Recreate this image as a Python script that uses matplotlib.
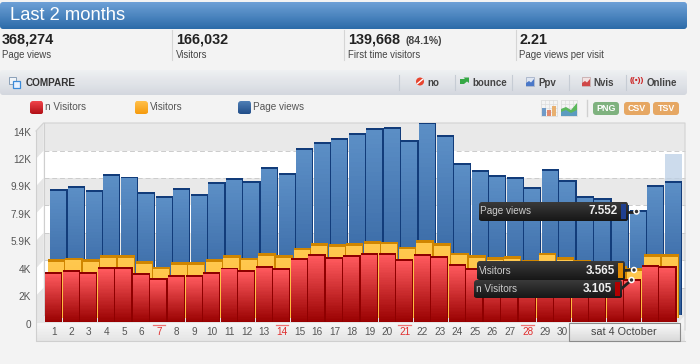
import numpy as np
import matplotlib
matplotlib.use("Agg")
import matplotlib.pyplot as plt
from matplotlib.patches import FancyBboxPatch, Rectangle, Polygon, Circle
from matplotlib.transforms import ScaledTranslation

plt.rcParams['font.family'] = ['Liberation Sans', 'DejaVu Sans']

# ---- data -----
days = list(range(1, 37))
n_visitors = [3650,3770,3650,3960,3960,3580,3170,3380,3410,3620,3940,3770,4060,3890,4630,4900,4730,4850,4970,4990,4580,4920,4750,4220,3890,3650,3600,3450,3800,3550,3450,3350,3300,3105,4130,4080]
visitors = [4230,4330,4250,4530,4530,4090,3680,4020,3990,4210,4530,4340,4660,4500,5060,5400,5280,5400,5530,5480,5120,5620,5390,4700,4500,4370,4420,4150,4700,4350,4150,3950,3750,3565,4570,4570]
page_views = [9070,9290,9020,10130,9960,8830,8570,9160,8730,9570,9880,9650,10630,10200,11980,12460,12700,13060,13450,13550,12610,13850,12930,10940,10460,10040,9940,9180,10500,9690,8590,8400,7900,7552,9320,9630]
ghost_day = 36
ghost_value = 11570
tick_step_values = [0,1972,3944,5916,7888,9860,11832,13804]
tick_labels = ['0','2K','4K','5.9K','7.9K','9.9K','12K','14K']
day_labels = [str(d) for d in range(1, 31)]
sunday_days = [7, 14, 21, 28]
legend_names = ['n Visitors', 'Visitors', 'Page views']
stats = [('368,274','Page views'),('166,032','Visitors'),('139,668','First time visitors'),('2.21','Page views per visit')]

W, H = 700, 364
fig = plt.figure(figsize=(7, 3.64), dpi=100, facecolor='#f3f3f3')

def pix_axes(z):
    a = fig.add_axes([0, 0, 1, 1], zorder=z)
    a.set_xlim(0, W); a.set_ylim(H, 0); a.axis('off'); a.patch.set_alpha(0)
    return a

bg = pix_axes(0)
top = pix_axes(5)

def grad(a, x0, x1, y0, y1, c0, c1, clip=None, zorder=1, n=48):
    """Vertical gradient; c0 at y0, c1 at y1."""
    c0 = np.array(matplotlib.colors.to_rgb(c0)); c1 = np.array(matplotlib.colors.to_rgb(c1))
    t = (np.arange(n) + 0.5) / n
    rgb = (c0[None, :] * (1 - t[:, None]) + c1[None, :] * t[:, None])[:, None, :]
    mesh = a.pcolormesh([x0, x1], np.linspace(y0, y1, n + 1), rgb, shading='flat',
                        zorder=zorder, linewidth=0, antialiased=False)
    if clip is not None:
        mesh.set_clip_path(clip)
    return mesh

def rrect(a, x0, y0, x1, y1, r=3, fc='none', ec='none', lw=0, zorder=2):
    p = FancyBboxPatch((x0 + r, y0 + r), x1 - x0 - 2 * r, y1 - y0 - 2 * r,
                       boxstyle=f"round,pad={r},rounding_size={r}", fc=fc, ec=ec, lw=lw, zorder=zorder)
    a.add_patch(p)
    return p

# header
p = rrect(bg, 0, 2, 687, 29, r=3, fc='none')
grad(bg, 0, 687, 2, 29, '#6da0d6', '#2b6aa8', clip=p)
bg.text(10, 15.5, 'Last 2 months', color='white', fontsize=13.2, va='center', ha='left', zorder=3)

# stats
for (v, l), x in zip(stats, [2, 176, 348, 519]):
    bg.text(x, 40, v, fontsize=10.4, fontweight='bold', color='#222222', va='center', ha='left')
    bg.text(x, 55, l, fontsize=6.9, color='#444444', va='center', ha='left')
bg.text(405, 41, '(84.1%)', fontsize=7.6, fontweight='bold', color='#444444', va='center', ha='left')
for x in [171.5, 344, 515.7]:
    bg.plot([x, x], [30, 60], color='#d5d5d5', lw=0.8)

# compare bar
p = rrect(bg, 0, 70, 687, 95, r=3, fc='none')
grad(bg, 0, 687, 70, 95, '#eef0f2', '#d3d7de', clip=p)
bg.text(26, 82.5, 'COMPARE', fontsize=7.2, fontweight='bold', color='#333333', va='center', zorder=3)
bg.add_patch(Rectangle((8.5, 76.5), 7, 7, fc='#f0f4f8', ec='#8aa0b8', lw=0.7, zorder=3))
bg.add_patch(Rectangle((12.5, 80.5), 7, 7, fc='#e8f2ff', ec='#3a8ad8', lw=0.9, zorder=3))
for txt, x in [('no', 427), ('bounce', 472), ('Ppv', 538), ('Nvis', 593), ('Online', 647)]:
    bg.text(x, 82.5, txt, fontsize=7, fontweight='bold', color='#444444', va='center', zorder=3)
for x in [399, 454.5, 512, 569, 626]:
    bg.plot([x, x], [75, 90], color='#c6ccd4', lw=0.8, zorder=3)
bg.add_patch(Circle((420, 81.5), 4, fc='#e8452f', ec='none', zorder=3))
bg.plot([417.6, 422.4], [83.5, 79.5], color='white', lw=1, zorder=4)
bg.add_patch(Polygon([[460, 84], [460, 79], [465, 79], [463.5, 77.5], [469, 77.5], [469, 83], [467, 81.5], [464, 84]], fc='#35a845', zorder=3))
bg.add_patch(Rectangle((525.5, 77), 8.5, 9, fc='#dfe6f2', ec='#9aa8c0', lw=0.5, zorder=3))
bg.add_patch(Polygon([[526, 86], [526, 83], [529, 81], [531, 82.5], [534, 79], [534, 86]], fc='#4a78c8', zorder=4))
bg.add_patch(Rectangle((581.5, 77), 8.5, 9, fc='#f2e2e2', ec='#c0a0a0', lw=0.5, zorder=3))
bg.add_patch(Polygon([[582, 86], [582, 83], [585, 81], [587, 82.5], [590, 79], [590, 86]], fc='#d04848', zorder=4))
bg.text(637, 81, '((\u2022))', fontsize=6, fontweight='bold', color='#cc2222', va='center', ha='center', zorder=3)

# legend swatches
for name, x, c0, c1 in [(legend_names[0], 30, '#f0444a', '#b00e14'), (legend_names[1], 134.5, '#ffc04a', '#f59a0c'), (legend_names[2], 238, '#4f7fb5', '#1f4c88')]:
    p = rrect(bg, x, 101, x + 13, 114, r=2.5)
    grad(bg, x, x + 13, 101, 114, c0, c1, clip=p)
    bg.text(x + 15, 107, name, fontsize=7.2, color='#555555', va='center')

# chart icons and buttons
for x0 in [541, 561]:
    bg.add_patch(Rectangle((x0, 100), 16, 16, fc='#f4f4f4', ec='#d8d8d8', lw=0.5))
    for g in [4, 8, 12]:
        bg.plot([x0 + g, x0 + g], [100, 116], color='#dcdcdc', lw=0.5)
        bg.plot([x0, x0 + 16], [100 + g, 100 + g], color='#dcdcdc', lw=0.5)
for dx, h, c in [(1, 8, '#6f9ac8'), (6, 6, '#e08a70'), (11, 10, '#e8b070')]:
    bg.add_patch(Rectangle((541 + dx, 116 - h), 4, h, fc=c, zorder=3))
bg.add_patch(Polygon([[561, 116], [561, 109], [566, 107], [571, 110], [577, 103], [577, 116]], fc='#5cb85c', zorder=3))
bg.add_patch(Polygon([[561, 116], [561, 112], [566, 110], [571, 113], [577, 110], [577, 116]], fc='#5b9bc0', zorder=4))
bg.plot([586.5, 586.5], [100, 116], color='#d0d0d0', lw=1)
for lab, x0, x1, c in [('PNG', 593, 619, '#7fb27f'), ('CSV', 624, 650, '#e6a763'), ('TSV', 653, 679, '#e6a763')]:
    rrect(bg, x0, 102, x1, 115, r=3, fc=c)
    bg.text((x0 + x1) / 2, 108.7, lab, fontsize=6.4, fontweight='bold', color='white', va='center', ha='center', zorder=3)

# chart frame / wall
wall_base, wall_step, wall_x0, wall_x1, side_x, side_dy = 315.0, 27.4, 43.5, 685.0, 36.0, 8.0
bg.add_patch(Rectangle((wall_x0, 123), wall_x1 - wall_x0, wall_base - 123, fc='white', ec='none'))
for k in range(7):
    y1 = wall_base - k * wall_step; y0 = y1 - wall_step
    shade = k % 2 == 0
    if shade:
        bg.add_patch(Rectangle((wall_x0, y0), wall_x1 - wall_x0, wall_step, fc='#e9e9e9', ec='none', zorder=1.1))
    bg.add_patch(Polygon([[side_x, y0 + side_dy], [wall_x0, y0], [wall_x0, y1], [side_x, y1 + side_dy]],
                         fc='#e6e6e6' if shade else '#ffffff', ec='none', zorder=1.1))
    if k > 0:
        bg.plot([wall_x0, wall_x1], [y1, y1], color='#cccccc', lw=0.7, ls=(0, (5, 3)), zorder=1.2)
bg.plot([side_x, wall_x0, wall_x1, wall_x1], [131, 123, 123, 330], color='#d2d2d2', lw=0.8, zorder=1.3)
bg.plot([wall_x0, wall_x0], [123, wall_base], color='#cfcfcf', lw=0.8, zorder=1.3)
bg.add_patch(Polygon([[side_x, 323], [wall_x0, wall_base], [wall_x1, wall_base], [wall_x1 - 7, 323]], fc='#e4e4e4', zorder=1.2))
grad(bg, side_x, wall_x1, 323, 341, '#f6f6f6', '#e4e4e4', zorder=1.2)
bg.plot([side_x, side_x, wall_x1], [131, 341, 341], color='#cfcfcf', lw=0.8, zorder=1.3)

# chart axes, positions set so the scale follows the picture
PX_PER_UNIT = 0.013895
Y0_PX, TOP_PX, LEFT_PX, RIGHT_PX = 322.3, 123.0, 36.0, 685.0
PITCH = 17.55
ax = fig.add_axes([LEFT_PX / W, 1 - Y0_PX / H, (RIGHT_PX - LEFT_PX) / W, (Y0_PX - TOP_PX) / H], zorder=2)
ax.patch.set_alpha(0)
ylim = (0, (Y0_PX - TOP_PX) / PX_PER_UNIT)
first_center = 53.7
xlim = (1 + (LEFT_PX - first_center) / PITCH, 1 + (RIGHT_PX - first_center) / PITCH)
ax.set_xlim(xlim); ax.set_ylim(ylim)
for s in ax.spines.values():
    s.set_visible(False)
ax.set_yticks(tick_step_values, tick_labels)
ax.set_xticks(days[:30], day_labels)
ax.tick_params(axis='both', length=0, labelcolor='#555555', labelsize=7.2)
ax.tick_params(axis='y', pad=3.5)
ax.tick_params(axis='x', pad=3.5)
shift = ScaledTranslation(0, -1.2 / 100, fig.dpi_scale_trans)
for lab in ax.get_yticklabels():
    lab.set_transform(lab.get_transform() + shift)
for lab, d in zip(ax.get_xticklabels(), days[:30]):
    if d in sunday_days:
        lab.set_color('#e03030')
for d in sunday_days:
    x = first_center + (d - 1) * PITCH
    bg.plot([x - 6.3, x + 6.3], [324.5, 324.5], color='#ef7070', lw=0.9, zorder=1.4)

width = 16 / PITCH
def bars(vals, dx_px, base, dark, c_top, c_bot, zorder, band=140):
    dx = dx_px / PITCH
    x = np.array(days) + dx
    v = np.array(vals, dtype=float)
    ax.bar(x, v, bottom=base, width=width + 1.2 / PITCH, color=dark, linewidth=0, zorder=zorder, align='center')
    for xi, val in zip(x, v):
        x0 = xi - width / 2 - 0.6 / PITCH + 0.0
        x1 = x0 + width
        grad(ax, x0, x1, base + val - band, base, c_top, c_bot, zorder=zorder + 0.1, n=40)

ax.bar(ghost_day + 5.3 / PITCH, ghost_value, bottom=530, width=width + 1.2 / PITCH, color='#bcd0e6', alpha=0.75, linewidth=0, zorder=1.9)
bars(page_views, 5.3, 530, '#123c7a', '#5c8fc6', '#2b5a98', 2)
bars(visitors, 2.7, 320, '#cf8500', '#ffc84e', '#ffb93a', 3, band=200)
bars(n_visitors, 0.0, 0, '#8f0000', '#ff5a5e', '#980000', 4)
ax.set_xlim(xlim); ax.set_ylim(ylim)

# date button
p = rrect(top, 569, 323, 680, 341, r=1, fc='none', ec='none')
grad(top, 569, 680, 323, 341, '#fafafa', '#d8d8d8', clip=p)
top.add_patch(Rectangle((569, 323), 111, 18, fc='none', ec='#8a8a8a', lw=0.8, zorder=3))
top.text(624, 332, 'sat 4 October', fontsize=7.8, color='#444444', va='center', ha='center', zorder=4)

# tooltips
tips = [(479, 628, 202, 221, 'Page views', '7.552', '#1f3f8f', 636.5, 211.5),
        (477, 625, 261, 280, 'Visitors', '3.565', '#e08a00', 634, 270),
        (474, 622, 280, 298, 'n Visitors', '3.105', '#b00000', 631.5, 280)]
for x0, x1, y0, y1, name, val, col, cx, cy in tips:
    top.plot([x1 - 1, cx], [(y0 + y1) / 2, cy], color='#222222', lw=2, zorder=2.5)
    p = rrect(top, x0, y0, x1, y1, r=2.5)
    grad(top, x0, x1, y0, y1, '#3a3a3a', '#161616', clip=p, zorder=3)
    top.text(x0 + 1.5, (y0 + y1) / 2, name, fontsize=7.2, color='#cccccc', va='center', zorder=4)
    top.text(x1 - 10.5, (y0 + y1) / 2, val, fontsize=8.4, fontweight='bold', color='#f0f0f0', va='center', ha='right', zorder=4)
    top.add_patch(Rectangle((x1 - 7, y0 + 2), 4.5, y1 - y0 - 4, fc=col, ec='none', zorder=4))
    top.add_patch(Circle((cx, cy), 2.5, fc='#333333', ec='white', lw=1.1, zorder=4))

for a in (bg, top):
    a.set_xlim(0, W); a.set_ylim(H, 0)

fig.savefig('out.png', dpi=100, facecolor=fig.get_facecolor())
